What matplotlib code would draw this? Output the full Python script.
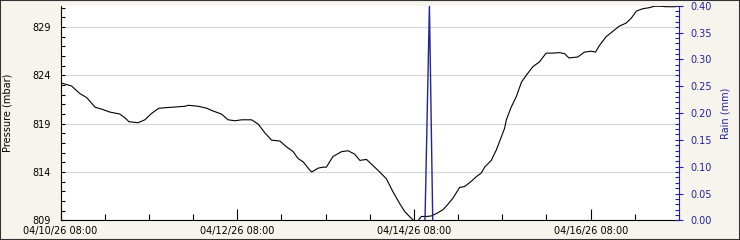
import pandas as pd
import matplotlib
matplotlib.use("Agg")
import matplotlib.pyplot as plt
import matplotlib.dates as mdates
from matplotlib.ticker import MultipleLocator

# --- data (hours after 04/10/26 08:00)
start = pd.Timestamp("2026-04-10 08:00")
p_hours = [0.3, 3.0, 5.3, 7.1, 9.4, 11.2, 13.4, 16.1, 17.5, 18.6, 21.1, 22.9, 24.7, 26.7,
           30.2, 33.8, 34.7, 37.4, 39.7, 41.5, 43.7, 45.5, 47.4, 49.2, 51.9, 53.7, 55.5,
           57.3, 59.6, 61.4, 63.2, 64.5, 65.9, 67.7, 68.2, 70.0, 71.3, 72.2, 74.0, 76.3,
           78.1, 79.9, 81.3, 83.1, 84.5, 86.7, 88.5, 90.3, 92.1, 93.5, 95.3, 96.2, 97.0,
           98.0, 99.4, 100.7, 102.1, 103.9, 105.2, 106.6, 108.4, 109.8, 111.6, 112.9,
           114.3, 115.2, 117.0, 118.4, 119.7, 120.6, 121.1, 122.4, 123.8, 125.2, 126.5,
           128.3, 130.1, 131.9, 133.7, 135.5, 136.9, 138.1, 140.5, 142.3, 144.2, 145.3,
           146.4, 148.2, 150.0, 151.8, 153.6, 155.0, 156.4, 158.2, 159.9, 161.3, 163.1,
           164.5, 167.0]
pressure = [823.2, 822.9, 822.1, 821.7, 820.7, 820.5, 820.2, 820.0, 819.6, 819.2, 819.1,
            819.4, 820.05, 820.6, 820.7, 820.8, 820.9, 820.8, 820.6, 820.3, 820.0, 819.4,
            819.3, 819.4, 819.4, 818.95, 818.05, 817.3, 817.2, 816.6, 816.1, 815.4, 815.05,
            814.2, 814.0, 814.4, 814.5, 814.5, 815.6, 816.1, 816.2, 815.85, 815.2, 815.3,
            814.8, 814.0, 813.3, 811.95, 810.75, 809.9, 809.2, 808.9, 808.9, 809.4, 809.4,
            809.45, 809.7, 810.1, 810.65, 811.3, 812.4, 812.5, 813.05, 813.5, 813.9, 814.5,
            815.2, 816.3, 817.6, 818.5, 819.4, 820.7, 821.8, 823.3, 824.0, 824.9, 825.4,
            826.3, 826.3, 826.35, 826.25, 825.8, 825.9, 826.4, 826.5, 826.4, 827.1, 828.0,
            828.55, 829.1, 829.4, 829.9, 830.65, 830.9, 831.0, 831.15, 831.15, 831.1, 831.1]
r_hours = [99.0, 100.2, 101.1]
rain = [0.0, 0.40, 0.0]
p_ticks = [809, 814, 819, 824, 829]
x_ticks = ["2026-04-10 08:00", "2026-04-12 08:00", "2026-04-14 08:00", "2026-04-16 08:00"]

p_time = [start + pd.Timedelta(hours=h) for h in p_hours]
r_time = [start + pd.Timedelta(hours=h) for h in r_hours]

blue = "#22229c"
bg = "#f6f4ec"

fig = plt.figure(figsize=(7.4, 2.4), dpi=100, facecolor=bg)
fig.patches.append(plt.Rectangle((0, 0), 1, 1, transform=fig.transFigure,
                                 fill=False, edgecolor="#333333", linewidth=1.5))
ax = fig.add_axes([0.0818, 0.082, 0.8358, 0.894])
ax.set_facecolor("white")
ax.plot(p_time, pressure, color="black", linewidth=0.8)
ax.set_ylim(809, 831.2)
ax.set_xlim(start, start + pd.Timedelta(hours=168))
ax.set_yticks(p_ticks)
ax.yaxis.set_minor_locator(MultipleLocator(1))
ax.grid(axis="y", which="major", color="#d8d8d8", linewidth=0.9)
ax.set_axisbelow(True)
ax.set_xticks([pd.Timestamp(t) for t in x_ticks])
ax.xaxis.set_major_formatter(mdates.DateFormatter("%m/%d/%y %H:%M"))
ax.xaxis.set_minor_locator(mdates.HourLocator(byhour=[8, 20]))
ax.tick_params(axis="x", which="major", direction="in", length=8, width=0.8, labelsize=7, pad=4)
ax.tick_params(axis="x", which="minor", direction="in", length=4, width=0.8)
ax.tick_params(axis="y", which="major", direction="in", length=3, width=0.8, labelsize=7, pad=7)
ax.tick_params(axis="y", which="minor", direction="in", length=3, width=0.8)
ax.set_ylabel("Pressure (mbar)", fontsize=7, labelpad=14)
ax.spines["top"].set_visible(False)
ax.spines["right"].set_visible(False)

ax2 = ax.twinx()
ax2.plot(r_time, rain, color=blue, linewidth=1.0)
ax2.set_ylim(0, 0.40)
ax2.yaxis.set_major_locator(MultipleLocator(0.05))
ax2.yaxis.set_minor_locator(MultipleLocator(0.01))
ax2.yaxis.set_major_formatter(plt.FormatStrFormatter("%.2f"))
ax2.tick_params(axis="y", which="major", direction="inout", length=6, width=0.8,
                color=blue, labelcolor=blue, labelsize=7, pad=5)
ax2.tick_params(axis="y", which="minor", direction="in", length=3, width=0.8, color=blue)
ax2.set_ylabel("Rain (mm)", fontsize=7, color=blue, labelpad=6)
ax2.spines["right"].set_color(blue)
ax2.spines["top"].set_visible(False)
ax2.spines["left"].set_visible(False)
ax2.spines["bottom"].set_visible(False)

fig.savefig("out.png", dpi=100, facecolor=bg)
